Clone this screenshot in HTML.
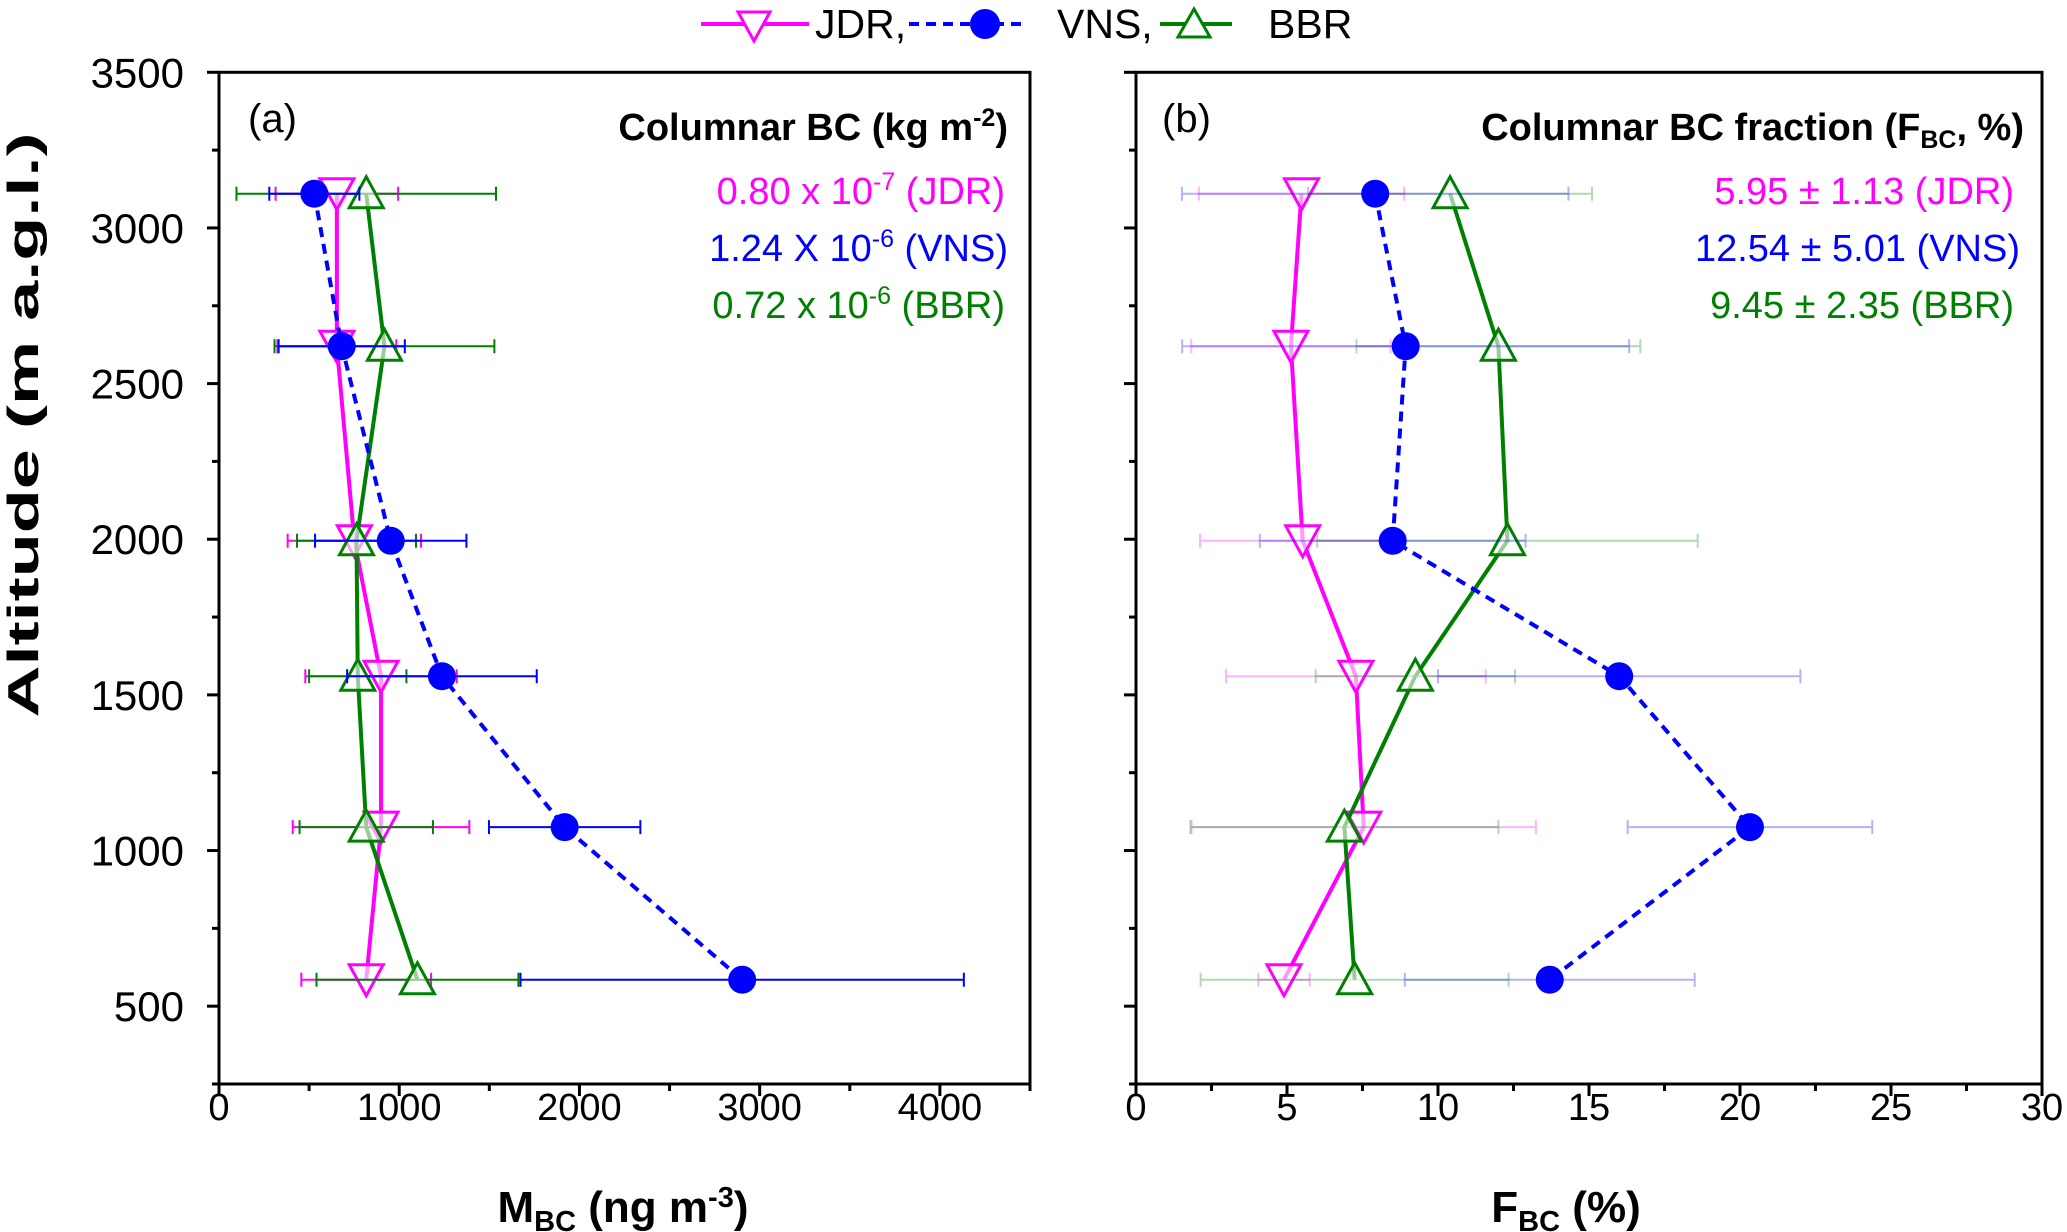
<!DOCTYPE html>
<html><head><meta charset="utf-8">
<style>
html,body{margin:0;padding:0;background:#fff;}
svg{display:block;font-family:"Liberation Sans",Arial,sans-serif;}
</style></head>
<body>
<svg id="chart" width="2067" height="1232" viewBox="0 0 2067 1232" xmlns="http://www.w3.org/2000/svg">
<g id="legend">
  <line x1="701" y1="24" x2="809" y2="24" stroke="#ff00ff" stroke-width="4"/>
  <polygon points="738,12 770,12 754,41" fill="#fff" stroke="#ff00ff" stroke-width="3"/>
  <text x="815" y="38" font-size="41">JDR,</text>
  <line x1="909" y1="24" x2="1028" y2="24" stroke="#0000ff" stroke-width="4" stroke-dasharray="10,7"/>
  <circle cx="985" cy="24" r="15" fill="#0000ff"/>
  <text x="1057" y="38" font-size="41">VNS,</text>
  <line x1="1160" y1="24" x2="1232" y2="24" stroke="#008000" stroke-width="4"/>
  <polygon points="1178,37 1210,37 1194,9" fill="#fff" stroke="#008000" stroke-width="3"/>
  <text x="1268" y="38" font-size="41">BBR</text>
</g>
</svg>
<script>
// shared altitudes
const altitudes = [3110, 2620, 1995, 1560, 1075, 585];
// panel a: M_BC (ng m-3)
const jdrMbc = [654, 654, 751, 899, 899, 817];
const jdrMbcErr = [340, 330, 370, 420, 490, 360];
const vnsMbc = [529, 681, 953, 1237, 1918, 2903];
const vnsMbcErr = [250, 350, 420, 526, 420, 1230];
const bbrMbc = [817, 918, 763, 770, 817, 1101];
const bbrMbcErr = [720, 610, 330, 270, 370, 560];
// panel b: F_BC (%)
const jdrFbc = [5.48, 5.13, 5.52, 7.28, 7.54, 4.9];
const jdrFbcErr = [3.4, 3.3, 3.4, 4.3, 5.7, 0.85];
const vnsFbc = [7.92, 8.93, 8.5, 16.0, 20.33, 13.7];
const vnsFbcErr = [6.4, 7.4, 4.4, 6.0, 4.05, 4.8];
const bbrFbc = [10.4, 12.0, 12.3, 9.25, 6.9, 7.24];
const bbrFbcErr = [4.7, 4.7, 6.3, 3.3, 5.1, 5.1];
const yTicks = [500, 1000, 1500, 2000, 2500, 3000, 3500];
const xTicksA = [0, 1000, 2000, 3000, 4000];
const xTicksB = [0, 5, 10, 15, 20, 25, 30];

const NS = "http://www.w3.org/2000/svg";
const svg = document.getElementById('chart');
function mk(tag, attrs, parent, txt){
  const e = document.createElementNS(NS, tag);
  for (const k in attrs) e.setAttribute(k, attrs[k]);
  if (txt !== undefined) e.textContent = txt;
  (parent || svg).appendChild(e);
  return e;
}
const Y0 = 72.3, Y1 = 1084, ymin = 250, ymax = 3500;
function yS(v){ return Y1 - (v - ymin) / (ymax - ymin) * (Y1 - Y0); }

function panel(opt){
  const g = mk('g', {});
  
  
  const xS = v => opt.L + (v - opt.xmin) / (opt.xmax - opt.xmin) * (opt.R - opt.L);
  const fr = mk('rect', {x: opt.L, y: Y0, width: opt.R - opt.L, height: Y1 - Y0, fill: 'none', stroke: '#000', 'stroke-width': 3}, g);
  
  
  for (let v = ymin; v <= ymax; v += 250) {
    const major = v % 500 === 0;
    const t = mk('line', {x1: opt.L - (major ? 12 : 7), x2: opt.L, y1: yS(v), y2: yS(v), stroke: '#000', 'stroke-width': 3}, g);
    
    
  }
  if (opt.yLabels) {
    yTicks.forEach(v => {
      const t = mk('text', {x: 184, y: yS(v) + 15, 'font-size': 42, 'text-anchor': 'end'}, g, String(v));
      
      
    });
  }
  for (let v = opt.xmin; v <= opt.xmax + 1e-9; v += opt.minor) {
    const major = Math.abs(v / opt.major - Math.round(v / opt.major)) < 1e-6;
    const t = mk('line', {x1: xS(v), x2: xS(v), y1: Y1, y2: Y1 + (major ? 12 : 7), stroke: '#000', 'stroke-width': 3}, g);
    
    
  }
  opt.xTicks.forEach(v => {
    const t = mk('text', {x: xS(v), y: Y1 + 36, 'font-size': 38, 'text-anchor': 'middle'}, g, String(v));
    
    
  });
  opt.series.forEach(s => {
    const sg = mk('g', {}, g);
    
    
    s.vals.forEach((v, i) => {
      const y = yS(altitudes[i]), a = xS(v - s.err[i]), b = xS(v + s.err[i]);
      const eb = mk('path', {d: `M${a},${y}H${b}M${a},${y-7}V${y+7}M${b},${y-7}V${y+7}`, stroke: s.color, 'stroke-width': 2, 'stroke-opacity': opt.errOp, fill: 'none'}, sg);
      
      
    });
    const pts = s.vals.map((v, i) => xS(v) + ',' + yS(altitudes[i])).join(' ');
    const pl = mk('polyline', {points: pts, fill: 'none', stroke: s.color, 'stroke-width': 4, 'stroke-dasharray': s.dash || 'none'}, sg);
    
    
    s.vals.forEach((v, i) => {
      const x = xS(v), y = yS(altitudes[i]);
      let m;
      if (s.marker === 'circle') m = mk('circle', {cx: x, cy: y, r: 14, fill: s.color}, sg);
      else if (s.marker === 'down') m = mk('polygon', {points: `${x-17},${y-15} ${x+17},${y-15} ${x},${y+16}`, fill: '#fff', 'fill-opacity': 0.6, stroke: s.color, 'stroke-width': 3}, sg);
      else m = mk('polygon', {points: `${x-17},${y+14} ${x+17},${y+14} ${x},${y-17}`, fill: '#fff', 'fill-opacity': 0.6, stroke: s.color, 'stroke-width': 3}, sg);
      
      
    });
  });
  return g;
}

panel({name: 'panel-a', L: 219, R: 1030, xmin: 0, xmax: 4500, major: 1000, minor: 500, xTicks: xTicksA, yLabels: true, errOp: 1,
  series: [
    {name: 'series-jdr-a', vals: jdrMbc, err: jdrMbcErr, color: '#ff00ff', marker: 'down'},
    {name: 'series-bbr-a', vals: bbrMbc, err: bbrMbcErr, color: '#008000', marker: 'up'},
    {name: 'series-vns-a', vals: vnsMbc, err: vnsMbcErr, color: '#0000ff', marker: 'circle', dash: '10,7'}
  ]});
panel({name: 'panel-b', L: 1136, R: 2042, xmin: 0, xmax: 30, major: 5, minor: 2.5, xTicks: xTicksB, yLabels: false, errOp: 0.3,
  series: [
    {name: 'series-jdr-b', vals: jdrFbc, err: jdrFbcErr, color: '#ff00ff', marker: 'down'},
    {name: 'series-bbr-b', vals: bbrFbc, err: bbrFbcErr, color: '#008000', marker: 'up'},
    {name: 'series-vns-b', vals: vnsFbc, err: vnsFbcErr, color: '#0000ff', marker: 'circle', dash: '10,7'}
  ]});
</script>
<svg style="position:absolute;left:0;top:0" width="2067" height="1232">
  <text x="38" y="425" font-size="44" font-weight="bold" text-anchor="middle" textLength="585" lengthAdjust="spacingAndGlyphs" transform="rotate(-90 38 425)" font-family="Liberation Sans, sans-serif">Altitude (m a.g.l.)</text>
  <text x="623" y="1222" font-size="44" font-weight="bold" text-anchor="middle" font-family="Liberation Sans, sans-serif">M<tspan font-size="29" dy="9">BC</tspan><tspan dy="-9"> (ng m</tspan><tspan font-size="29" dy="-15">-3</tspan><tspan dy="15">)</tspan></text>
  <text x="1566" y="1222" font-size="44" font-weight="bold" text-anchor="middle" font-family="Liberation Sans, sans-serif">F<tspan font-size="29" dy="9">BC</tspan><tspan dy="-9"> (%)</tspan></text>
  <g font-family="Liberation Sans, sans-serif" font-size="38">
    <text x="248" y="132" font-size="40">(a)</text>
    <text x="1008" y="140" font-weight="bold" text-anchor="end">Columnar BC (kg m<tspan font-size="25" dy="-14">-2</tspan><tspan dy="14">)</tspan></text>
    <text x="1005" y="204" fill="#ff00ff" text-anchor="end">0.80 x 10<tspan font-size="25" dy="-14">-7</tspan><tspan dy="14"> (JDR)</tspan></text>
    <text x="1008" y="261" fill="#0000ff" text-anchor="end">1.24 X 10<tspan font-size="25" dy="-14">-6</tspan><tspan dy="14"> (VNS)</tspan></text>
    <text x="1005" y="318" fill="#008000" text-anchor="end">0.72 x 10<tspan font-size="25" dy="-14">-6</tspan><tspan dy="14"> (BBR)</tspan></text>
    <text x="1162" y="132" font-size="40">(b)</text>
    <text x="2024" y="140" font-weight="bold" text-anchor="end">Columnar BC fraction (F<tspan font-size="25" dy="8">BC</tspan><tspan dy="-8">, %)</tspan></text>
    <text x="2014" y="204" fill="#ff00ff" text-anchor="end">5.95 ± 1.13 (JDR)</text>
    <text x="2020" y="261" fill="#0000ff" text-anchor="end">12.54 ± 5.01 (VNS)</text>
    <text x="2014" y="318" fill="#008000" text-anchor="end">9.45 ± 2.35 (BBR)</text>
  </g>
</svg>
</body></html>
